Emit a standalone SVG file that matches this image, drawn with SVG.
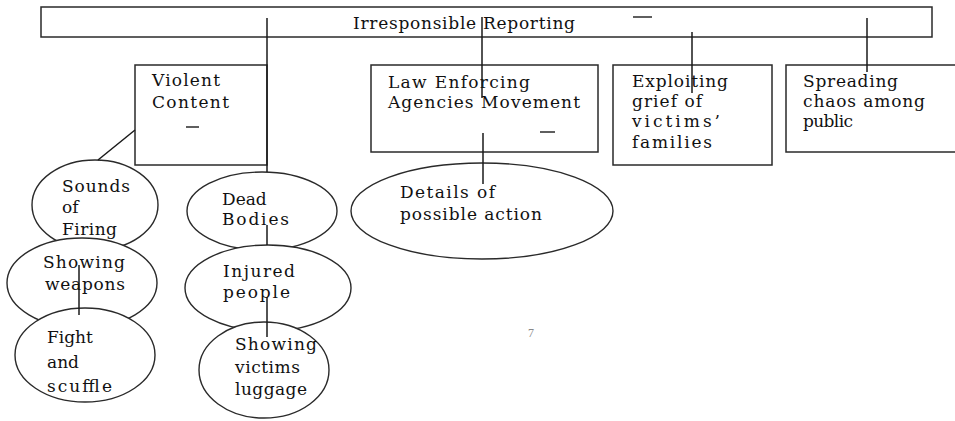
<svg xmlns="http://www.w3.org/2000/svg" width="955" height="421" viewBox="0 0 955 421">
<style>
.box{fill:#fff;stroke:#2a2a2a;stroke-width:1.5}
.ell{fill:#fff;stroke:#2a2a2a;stroke-width:1.4}
.t{font-family:"DejaVu Serif","Liberation Serif",serif;font-size:17px;fill:#111}
.c{stroke:#1a1a1a;stroke-width:1.5;fill:none}
.dash{stroke:#1a1a1a;stroke-width:1.4}
</style>
<rect width="955" height="421" fill="#fff"/>
<g id="root">
<rect class="box" x="41" y="7" width="891" height="30"/>
<text class="t" x="353" y="29" textLength="222">Irresponsible Reporting</text>
<line class="dash" x1="633" y1="17" x2="652" y2="17"/>
</g>
<g id="violent">
<rect class="box" x="135" y="65" width="132" height="100"/>
<text class="t" x="152" y="86" textLength="68">Violent</text>
<text class="t" x="152" y="108" textLength="77">Content</text>
<line class="dash" x1="186" y1="127" x2="199" y2="127"/>
</g>
<g id="law">
<rect class="box" x="371" y="65" width="227" height="87"/>
<text class="t" x="388" y="88" textLength="142">Law Enforcing</text>
<text class="t" x="388" y="108" textLength="192">Agencies Movement</text>
<line class="dash" x1="540" y1="132" x2="555" y2="132"/>
</g>
<g id="exploiting">
<rect class="box" x="613" y="65" width="159" height="100"/>
<text class="t" x="632" y="87" textLength="96">Exploiting</text>
<text class="t" x="632" y="107" textLength="70">grief of</text>
<text class="t" x="632" y="127" textLength="88">victims’</text>
<text class="t" x="632" y="148" textLength="80">families</text>
</g>
<g id="spreading">
<rect class="box" x="786" y="65" width="180" height="87"/>
<text class="t" x="803" y="87" textLength="95">Spreading</text>
<text class="t" x="803" y="107" textLength="122">chaos among</text>
<text class="t" x="803" y="127" textLength="50">public</text>
</g>
<g id="details">
<ellipse class="ell" cx="482" cy="211" rx="131" ry="48"/>
<text class="t" x="400" y="198" textLength="95">Details of</text>
<text class="t" x="400" y="220" textLength="142">possible action</text>
</g>
<g id="sounds">
<ellipse class="ell" cx="95" cy="205" rx="63" ry="45"/>
<text class="t" x="62" y="192" textLength="68">Sounds</text>
<text class="t" x="62" y="213">of</text>
<text class="t" x="62" y="235" textLength="55">Firing</text>
</g>
<g id="weapons">
<ellipse class="ell" cx="82" cy="283" rx="75" ry="45"/>
<text class="t" x="43" y="268" textLength="82">Showing</text>
<text class="t" x="45" y="290" textLength="80">weapons</text>
</g>
<g id="fight">
<ellipse class="ell" cx="85" cy="355" rx="70" ry="47"/>
<text class="t" x="47" y="343">Fight</text>
<text class="t" x="47" y="368">and</text>
<text class="t" x="47" y="392" textLength="65">scuffle</text>
</g>
<g id="dead">
<ellipse class="ell" cx="262" cy="211" rx="75" ry="39"/>
<text class="t" x="222" y="205">Dead</text>
<text class="t" x="222" y="225" textLength="67">Bodies</text>
</g>
<g id="injured">
<ellipse class="ell" cx="268" cy="288" rx="83" ry="43"/>
<text class="t" x="223" y="277" textLength="72">Injured</text>
<text class="t" x="223" y="298" textLength="67">people</text>
</g>
<g id="luggage">
<ellipse class="ell" cx="264" cy="370" rx="65" ry="48"/>
<text class="t" x="235" y="350" textLength="82">Showing</text>
<text class="t" x="235" y="373" textLength="65">victims</text>
<text class="t" x="235" y="395" textLength="72">luggage</text>
</g>
<g id="connectors">
<line class="c" x1="267" y1="18" x2="267" y2="172"/>
<line class="c" x1="482" y1="17" x2="482" y2="98"/>
<line class="c" x1="692" y1="32" x2="692" y2="93"/>
<line class="c" x1="867" y1="18" x2="867" y2="72"/>
<line class="c" x1="483" y1="133" x2="483" y2="184"/>
<line class="c" x1="135" y1="130" x2="98" y2="160"/>
<line class="c" x1="79" y1="265" x2="79" y2="315"/>
<line class="c" x1="267" y1="225" x2="267" y2="245"/>
<line class="c" x1="267" y1="297" x2="267" y2="337"/>
</g>
<text x="528" y="337" font-family="Liberation Serif, serif" font-size="12" fill="#888">7</text>
</svg>
